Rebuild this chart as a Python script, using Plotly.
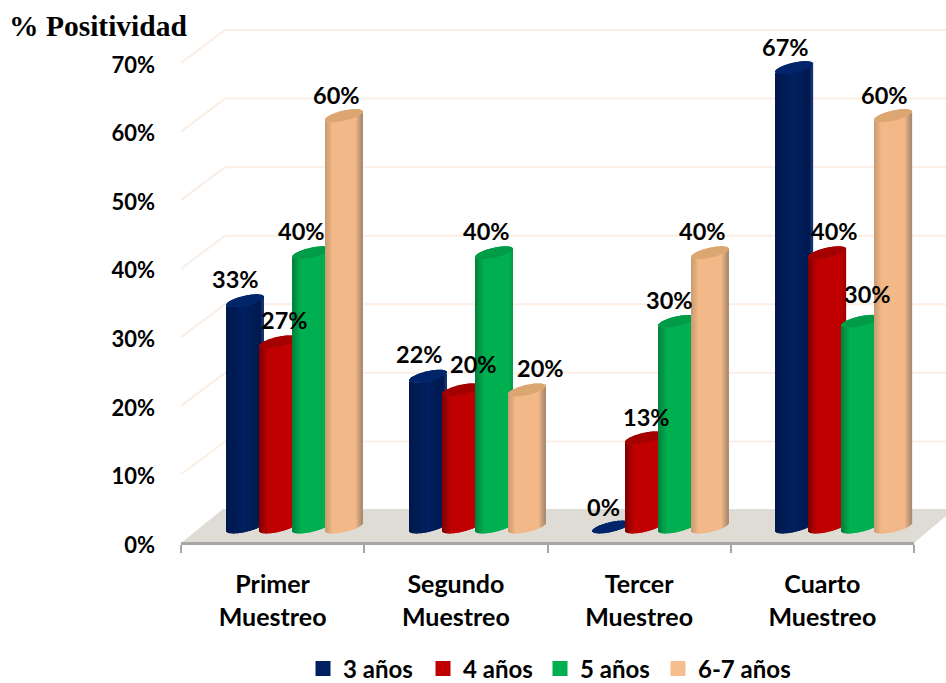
import math
import plotly.graph_objects as go

# ---------- data ----------
categories = ["Primer<br>Muestreo", "Segundo<br>Muestreo", "Tercer<br>Muestreo", "Cuarto<br>Muestreo"]
series_names = ["3 años", "4 años", "5 años", "6-7 años"]
values_3 = [33, 22, 0, 67]
values_4 = [27, 20, 13, 40]
values_5 = [40, 40, 30, 30]
values_67 = [60, 20, 40, 60]
y_ticks = [0, 10, 20, 30, 40, 50, 60, 70]
y_labels = ["0%", "10%", "20%", "30%", "40%", "50%", "60%", "70%"]
all_values = [values_3, values_4, values_5, values_67]

# ---------- geometry (pixels of the 946x683 page) ----------
W, H = 946, 683
AX_L, AX_R, AX_Y = 181, 914, 543
PX_PER_PCT = 6.857
PX_PER_CAT = (AX_R - AX_L) / 4
BACK_DX, BACK_DY = 44, 33
BAR_W, BAR_PITCH, BAR_START = 37, 33, 45
BASE_LIFT = 16
TICK_DROP = 2
TICK_DOM_BOTTOM = 600
CAP_B, CAP_TILT = 5.0, 4.0
FONT = "Lato"
SWATCH = ["#002060", "#C00000", "#00B050", "#F7BE8D"]
CAP = ["#00256b", "#a50000", "#009c48", "#dca673"]
SHADE = [
    [(0, "#00194d"), (.5, "#002060"), (.93, "#001a50"), (1, "#1c3a78")],
    [(0, "#7d0000"), (.25, "#c00000"), (.9, "#c00000"), (1, "#a00000")],
    [(0, "#00803c"), (.25, "#00b050"), (.9, "#00b050"), (1, "#00a048")],
    [(0, "#c99a6f"), (.2, "#f2b887"), (.82, "#f4b988"), (1, "#a88a70")],
]
LABEL_DX = [[-9, -8, -8, -9], [7, 13, 2, 7], [-9, -7, -8, 7], [-7, 14, -8, -9]]
LABEL_DY = [[22, 22, 20, 21], [22, 26, 21, 22], [22, 22, 21, 27], [21, 22, 22, 21]]
LEGEND_X = [303, 423, 540, 658]


def hex2rgb(h):
    return tuple(int(h[i:i + 2], 16) for i in (1, 3, 5))


def shade(stops, p):
    for (p0, c0), (p1, c1) in zip(stops, stops[1:]):
        if p <= p1:
            f = (p - p0) / (p1 - p0)
            a, b = hex2rgb(c0), hex2rgb(c1)
            return "rgb(%d,%d,%d)" % tuple(a[i] + (b[i] - a[i]) * f for i in range(3))
    return stops[-1][1]


fig = go.Figure()

# hidden trace carrying the category axis
fig.add_trace(go.Scatter(x=categories, y=[0] * 4, mode="markers", opacity=0,
                         showlegend=False, hoverinfo="skip", xaxis="x", yaxis="y"))

N = BAR_W
annotations = []
for j, vals in enumerate(all_values):
    xs, bases, bodies, tops, cols = [], [], [], [], []
    for i, v in enumerate(vals):
        for k in range(N):
            p = (k + .5) / N
            t = 2 * p - 1
            low = (CAP_TILT * t - CAP_B * math.sqrt(1 - t * t)) / PX_PER_PCT
            up = (CAP_TILT * t + CAP_B * math.sqrt(1 - t * t)) / PX_PER_PCT
            xs.append(i + (BAR_START + BAR_PITCH * j + k) / PX_PER_CAT)
            bases.append(low)
            bodies.append(v)
            tops.append(up - low)
            cols.append(shade(SHADE[j], p))
        annotations.append(dict(
            x=i + (BAR_START + BAR_PITCH * j + BAR_W / 2) / PX_PER_CAT, y=v,
            xref="x2", yref="y2", text=f"{v}%", showarrow=False,
            xshift=LABEL_DX[j][i], yshift=LABEL_DY[j][i], yanchor="middle",
            font=dict(family=FONT, size=23.5, color="#000", weight=700)))
    strip = 1.4 / PX_PER_CAT
    fig.add_trace(go.Bar(x=xs, y=bodies, base=bases, width=strip, offset=0,
                         marker=dict(color=cols, line_width=0), showlegend=False,
                         hoverinfo="skip", xaxis="x2", yaxis="y2"))
    cap_bases = [b + h for b, h in zip(bases, bodies)]
    fig.add_trace(go.Bar(x=xs, y=tops, base=cap_bases, width=strip, offset=0,
                         marker=dict(color=CAP[j], line_width=0), showlegend=False,
                         hoverinfo="skip", xaxis="x2", yaxis="y2"))

leg_font = dict(family=FONT, size=24, color="#000", weight=700)
legends = {}
for j, (name, c) in enumerate(zip(series_names, SWATCH)):
    key = "legend" if j == 0 else f"legend{j + 1}"
    fig.add_trace(go.Scatter(x=[None], y=[None], mode="markers", name=name, legend=key,
                             marker=dict(symbol="square", size=15, color=c),
                             xaxis="x2", yaxis="y2"))
    legends[key] = dict(x=LEGEND_X[j] / W, xanchor="left", y=1 - 669 / H, yanchor="middle",
                        font=leg_font, bgcolor="rgba(0,0,0,0)",
                        itemclick=False, itemdoubleclick=False)

# floor and back wall
sx = lambda px: px / W
sy = lambda px: 1 - px / H
shapes = [dict(type="path", xref="paper", yref="paper", layer="below", line_width=0,
               fillcolor="#dedcd4",
               path=f"M{sx(AX_L)},{sy(AX_Y)} L{sx(AX_R)},{sy(AX_Y)} L{sx(W)},{sy(516)} "
                    f"L{sx(W)},{sy(509)} L{sx(AX_L + 42)},{sy(509)} Z")]
for v in y_ticks[1:]:
    y0 = v - BASE_LIFT / PX_PER_PCT
    yb = y0 + BACK_DY / PX_PER_PCT
    shapes.append(dict(type="line", xref="paper", yref="y2", layer="below",
                       x0=sx(AX_L), x1=sx(AX_L + BACK_DX), y0=y0, y1=yb,
                       line=dict(color="#fbeee4", width=2)))
    shapes.append(dict(type="line", xref="paper", yref="y2", layer="below",
                       x0=sx(AX_L + BACK_DX), x1=1, y0=yb, y1=yb,
                       line=dict(color="#fbeee4", width=2)))

dom_x = [sx(AX_L), sx(AX_R)]
tick_font = dict(family=FONT, size=22, color="#000", weight=700)
cat_font = dict(family=FONT, size=25, color="#000", weight=700)
tick_zero_px = AX_Y + TICK_DROP
bar_zero_px = AX_Y - BASE_LIFT
fig.update_layout(
    width=W, height=H, margin=dict(l=0, r=0, t=0, b=0, autoexpand=False),
    paper_bgcolor="white", plot_bgcolor="rgba(0,0,0,0)",
    barmode="overlay", shapes=shapes, annotations=annotations,
    title=dict(text="% Positividad", x=9 / W, xanchor="left", xref="paper",
               y=sy(26), yanchor="middle", yref="paper",
               font=dict(family="Liberation Serif", size=29.5, color="#000", weight=700)),
    xaxis=dict(domain=dom_x, type="category", categoryorder="array", categoryarray=categories,
               range=[-.5, 3.5], tickson="boundaries", ticks="outside", ticklen=8,
               tickwidth=2, tickcolor="#a6a6a6", showline=True, linecolor="#a6a6a6",
               linewidth=3, showgrid=False, tickfont=cat_font, ticklabelstandoff=18,
               tickangle=0, automargin=False, anchor="free", position=sy(AX_Y), fixedrange=True),
    yaxis=dict(domain=[sy(TICK_DOM_BOTTOM), 1],
               range=[(tick_zero_px - TICK_DOM_BOTTOM) / PX_PER_PCT, tick_zero_px / PX_PER_PCT],
               tickvals=y_ticks, ticktext=y_labels,
               showgrid=False, zeroline=False, showline=False, ticks="", tickfont=tick_font,
               ticklabelstandoff=25, automargin=False, anchor="x", fixedrange=True),
    xaxis2=dict(domain=dom_x, range=[0, 4], overlaying="x", visible=False, anchor="y2", fixedrange=True),
    yaxis2=dict(range=[(bar_zero_px - TICK_DOM_BOTTOM) / PX_PER_PCT, bar_zero_px / PX_PER_PCT],
                overlaying="y", visible=False, anchor="x2", fixedrange=True),
    **legends,
)
fig.write_html("out.html", config={"displayModeBar": False},
               post_script="document.body.style.margin='0';")
